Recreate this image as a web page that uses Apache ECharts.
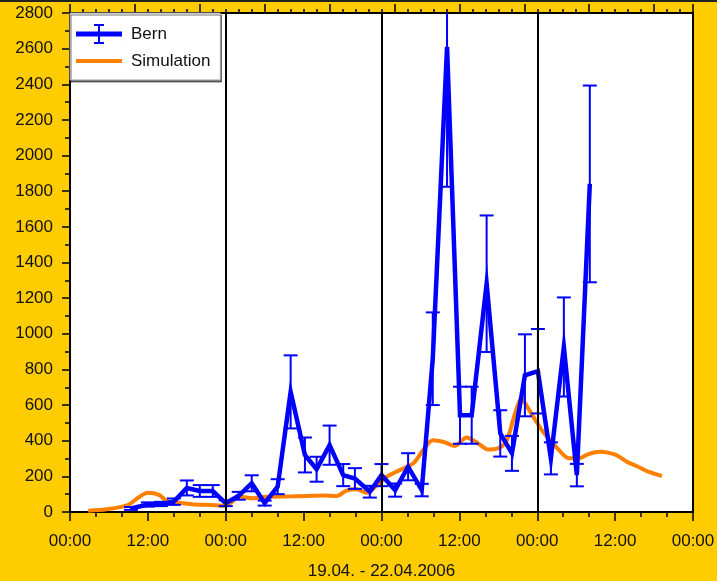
<!DOCTYPE html>
<html>
<head>
<meta charset="utf-8">
<script src="https://cdn.jsdelivr.net/npm/echarts@6/dist/echarts.min.js"></script>
<style>
  html, body { margin: 0; padding: 0; background: #FFCC00; }
  #chart { width: 717px; height: 581px; }
</style>
</head>
<body>
<div id="chart"></div>
<script>
// Hours since 19.04.2006 00:00
const bernHours = [9.4, 12, 14, 16, 18, 20, 22, 24, 26, 28, 30, 32, 34, 36.2, 38, 40, 42.1, 43.9, 46.2, 48, 50.1, 52.1, 54.2, 55.9, 58.1, 60.1, 61.9, 64.2, 66.3, 68.1, 70.1, 72.1, 74.1, 76.1, 78.1, 80.1];
const bernValues = [20, 42, 45, 58, 135, 118, 118, 49, 91, 161, 50, 142, 674, 320, 240, 375, 207, 188, 114, 207, 123, 254, 123, 860, 2610, 543, 543, 1281, 441, 329, 767, 790, 301, 926, 207, 1841];
const bernErrors = [8, 12, 12, 18, 42, 33, 33, 16, 22, 45, 14, 42, 205, 98, 70, 110, 62, 58, 33, 62, 37, 76, 35, 260, 785, 160, 160, 383, 130, 98, 230, 237, 90, 278, 63, 552];

const simHours = [2.8, 5.6, 8.9, 10.5, 12.0, 13.8, 14.8, 16.4, 18.8, 21.6, 23.9, 26.2, 28.2, 30.3, 34.3, 36.5, 39.0, 41.1, 42.6, 44.2, 45.7, 47.3, 48.8, 50.8, 52.9, 54.4, 55.9, 57.5, 59.3, 61.1, 62.9, 64.4, 65.9, 67.2, 68.5, 69.6, 70.3, 71.4, 72.9, 74.9, 76.9, 78.4, 79.9, 81.7, 84.2, 85.8, 87.3, 89.1, 91.2];
const simValues = [7, 15, 39, 80, 108, 95, 63, 54, 43, 39, 35, 86, 77, 86, 88, 90, 92, 90, 120, 127, 108, 151, 198, 235, 273, 347, 403, 394, 371, 418, 385, 351, 357, 394, 543, 637, 600, 534, 450, 366, 301, 301, 325, 338, 319, 282, 258, 226, 202];

const midnights = [24, 48, 72];
const xAxisTitle = '19.04. - 22.04.2006';

const FONT = '"Liberation Sans", Arial, sans-serif';
const BLUE = '#0000FF';
const ORANGE = '#FF8000';

const bernLine = bernHours.map((h, i) => [h, bernValues[i]]);
const bernBars = bernHours.map((h, i) => [h, bernValues[i] - bernErrors[i], bernValues[i] + bernErrors[i]]);
const simLine = simHours.map((h, i) => [h, simValues[i]]);

const chart = echarts.init(document.getElementById('chart'), null, { renderer: 'canvas' });

const pad = n => (n < 10 ? '0' : '') + n;

const tickStyle = { color: '#000', width: 1.5 };

chart.setOption({
  backgroundColor: '#FFCC00',
  animation: false,
  textStyle: { fontFamily: FONT },
  graphic: [{
    type: 'rect', left: 0, top: 0, shape: { width: 717, height: 2 },
    style: { fill: '#222' }, silent: true, z: -1
  }],
  grid: {
    left: 70, right: 24, top: 13, bottom: 69,
    show: true, backgroundColor: '#FFFFFF', borderColor: '#000', borderWidth: 2,
    outerBoundsMode: 'none'
  },
  legend: {
    orient: 'vertical',
    left: 70, top: 13,
    width: 153,
    padding: [10, 10, 8, 6],
    itemWidth: 46, itemHeight: 22,
    itemGap: 5,
    backgroundColor: '#FFFFFF',
    borderColor: '#9a9a9a', borderWidth: 1,
    shadowColor: 'rgba(0,0,0,0.55)', shadowBlur: 0, shadowOffsetX: 1, shadowOffsetY: 2,
    borderRadius: 0,
    textStyle: { fontFamily: FONT, fontSize: 17, color: '#111', padding: [0, 0, 0, 4] },
    itemStyle: { borderWidth: 0 },
    data: [
      { name: 'Bern', icon: 'path://M0,8.5 L46,8.5 L46,13.5 L0,13.5 Z M22,2 L24,2 L24,20 L22,20 Z M18,1 L28,1 L28,3 L18,3 Z M18,19 L28,19 L28,21 L18,21 Z M0,0 L0.01,0 L0.01,22 L0,22 Z M45.99,0 L46,0 L46,22 L45.99,22 Z' },
      { name: 'Simulation', icon: 'path://M0,9 L46,9 L46,13 L0,13 Z M0,0 L0.01,0 L0.01,22 L0,22 Z M45.99,0 L46,0 L46,22 L45.99,22 Z' }
    ],
    selectedMode: false
  },
  xAxis: [{
    type: 'value', position: 'bottom',
    min: 0, max: 96, interval: 12,
    name: xAxisTitle, nameLocation: 'middle', nameGap: 51,
    nameTextStyle: { fontFamily: FONT, fontSize: 17, color: '#111' },
    axisLine: { show: true, lineStyle: { color: '#000', width: 2 } },
    axisTick: { show: true, length: 9, lineStyle: tickStyle },
    minorTick: { show: true, splitNumber: 3, length: 5, lineStyle: tickStyle },
    axisLabel: {
      fontFamily: FONT, fontSize: 17, color: '#111', margin: 21,
      formatter: v => pad(v % 24) + ':00'
    },
    splitLine: { show: false }
  }, {
    // same 0–96 h scale, finer ticks along the top edge
    type: 'value', position: 'top',
    min: 0, max: 96, interval: 10,
    axisLine: { show: true, lineStyle: { color: '#000', width: 2 } },
    axisTick: { show: true, length: 9, lineStyle: tickStyle },
    minorTick: { show: true, splitNumber: 5, length: 4, lineStyle: tickStyle },
    axisLabel: { show: false },
    splitLine: { show: false }
  }],
  yAxis: [{
    type: 'value',
    min: 0, max: 2800, interval: 200,
    axisLine: { show: true, lineStyle: { color: '#000', width: 2 } },
    axisTick: { show: true, length: 8, lineStyle: tickStyle },
    minorTick: { show: true, splitNumber: 2, length: 5, lineStyle: tickStyle },
    axisLabel: { fontFamily: FONT, fontSize: 17, color: '#111', margin: 17, formatter: v => String(v) },
    splitLine: { show: false }
  }],
  series: [
    {
      // day boundaries
      name: 'days', type: 'line', data: [], silent: true, z: 1,
      markLine: {
        silent: true, symbol: 'none', animation: false,
        label: { show: false },
        lineStyle: { color: '#000', width: 2, type: 'solid' },
        data: midnights.map(h => ({ xAxis: h }))
      }
    },
    {
      name: 'Simulation', type: 'line', data: simLine, xAxisIndex: 1,
      showSymbol: false, symbol: 'none', smooth: 0.3,
      lineStyle: { color: ORANGE, width: 4 },
      itemStyle: { color: ORANGE },
      z: 2
    },
    {
      name: 'Bern', type: 'custom', data: bernBars, clip: true, z: 3,
      itemStyle: { color: BLUE },
      renderItem: (params, api) => {
        const lo = api.coord([api.value(0), api.value(1)]);
        const hi = api.coord([api.value(0), api.value(2)]);
        const w = 7;
        const style = { stroke: BLUE, lineWidth: 2 };
        return {
          type: 'group',
          children: [
            { type: 'line', shape: { x1: lo[0], y1: hi[1], x2: lo[0], y2: lo[1] }, style },
            { type: 'line', shape: { x1: lo[0] - w, y1: hi[1], x2: lo[0] + w, y2: hi[1] }, style },
            { type: 'line', shape: { x1: lo[0] - w, y1: lo[1], x2: lo[0] + w, y2: lo[1] }, style }
          ]
        };
      }
    },
    {
      name: 'Bern', type: 'line', data: bernLine,
      showSymbol: false, symbol: 'none',
      lineStyle: { color: BLUE, width: 4.5, join: 'miter' },
      itemStyle: { color: BLUE },
      z: 4
    }
  ]
});
</script>
</body>
</html>
